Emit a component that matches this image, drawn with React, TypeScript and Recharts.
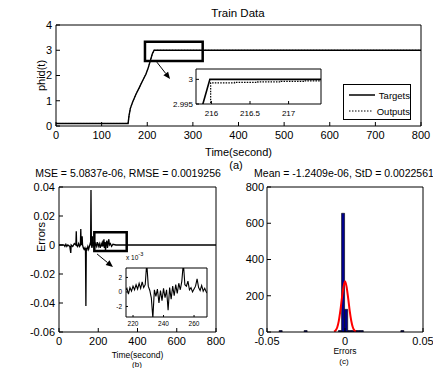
import React from "react";
import {
  LineChart,
  ComposedChart,
  Line,
  Bar,
  XAxis,
  YAxis,
  ReferenceArea,
  ReferenceLine,
  Legend,
  CartesianGrid,
} from "recharts";

// (a) train data
const trainTime = [0, 158, 160, 163, 168, 175, 182, 190, 197, 202, 207, 211, 215, 800];
const trainTargets = [0.1, 0.1, 0.4, 0.7, 0.95, 1.25, 1.5, 1.8, 2.05, 2.3, 2.6, 2.85, 3.0, 3.0];
const trainOutputs = [0.1, 0.1, 0.4, 0.7, 0.95, 1.25, 1.5, 1.8, 2.05, 2.3, 2.6, 2.85, 2.999, 3.0];
const trainXTicks = [0, 100, 200, 300, 400, 500, 600, 700, 800];
const trainYTicks = [0, 1, 2, 3, 4];

// (a) zoomed inset
const zoomTargetTime = [215.88, 215.98, 216.3, 216.6, 216.9, 217.2, 217.42];
const zoomTargets = [2.9945, 3.0, 3.0, 3.0, 3.0, 3.0, 3.0];
const zoomOutputTime = [215.88, 215.99, 216.3, 216.6, 216.9, 217.2, 217.42];
const zoomOutputs = [2.9942, 2.9993, 2.9994, 2.9995, 2.9996, 2.9997, 2.9997];
const zoomXTicks = [216, 216.5, 217];
const zoomYTicks = [2.995, 3];

// (b) errors
const errTime = [
  0, 25, 30, 35, 40, 45, 55, 60, 62, 70, 78, 86, 88, 90, 95, 100, 105, 109, 111, 113,
  116, 118, 120, 124, 128, 132, 135, 137, 139, 143, 147, 151, 155, 159, 161, 163, 165,
  168, 170, 172, 176, 180, 185, 190, 195, 200, 205, 210, 215, 220, 224, 226, 229, 231,
  234, 237, 240, 244, 247, 250, 254, 257, 262, 268, 275, 290, 800,
];
const errValue = [
  0, 0, -0.001, 0.0005, -0.001, 0, -0.001, -0.0055, 0, -0.001, 0.001, 0, 0.0095, 0,
  -0.001, 0.001, -0.001, 0, 0.011, 0, 0.001, 0.006, 0, -0.002, -0.003, -0.002, -0.004,
  -0.042, -0.002, -0.003, -0.001, -0.003, -0.001, 0.001, 0, 0.038, 0, -0.002, 0.006,
  -0.001, 0.002, -0.001, 0.001, -0.001, 0.002, -0.001, 0.001, -0.002, 0.001, -0.001,
  0.003, -0.001, 0.004, -0.002, 0.002, -0.004, 0.001, 0.003, -0.002, 0.001, 0.004, 0,
  0.001, -0.001, 0.0005, 0, 0,
];
const errXTicks = [0, 200, 400, 600, 800];
const errYTicks = [-0.06, -0.04, -0.02, 0, 0.02, 0.04];

// (b) zoomed inset, x 10^-3
const errZoomTime = [
  215, 216, 217, 218, 219, 220, 221, 222, 223, 224, 225, 226, 227, 228, 229, 230, 231,
  232, 233, 234, 235, 236, 237, 238, 239, 240, 241, 242, 243, 244, 245, 246, 247, 248,
  249, 250, 251, 252, 253, 254, 255, 256, 257, 258, 259, 260, 261, 262, 263, 264, 265,
  266, 267, 268, 269,
];
const errZoomValue = [
  0.2, 0.5, -0.3, 0.6, 0.1, 0.8, 0.3, 1.0, 0.4, 1.2, 0.5, 1.4, 0.6, 1.0, 4.0, 0.8, 0.2,
  -0.8, -3.6, 0.3, -0.6, 0.4, -1.5, 0.2, -1.2, 0.5, -0.8, 0.3, -2.5, 0.6, -1.0, 0.8,
  -0.5, 1.0, -0.2, 1.2, 0.3, 1.5, 4.0, 1.0, 0.8, 1.5, 0.3, 0.6, 0.0, 0.4, 0.8, 1.8, 0.6,
  0.2, 0.9, 0.1, 0.5, 0.0, -0.2,
];
const errZoomXTicks = [220, 240, 260];
const errZoomYTicks = [-2, 0, 2];

// (c) histogram, bins of width 0.002
const binCenters = [
  -0.0412, -0.0392, -0.0372, -0.0352, -0.0332, -0.0312, -0.0292, -0.0272, -0.0252,
  -0.0232, -0.0212, -0.0192, -0.0172, -0.0152, -0.0132, -0.0112, -0.0092, -0.0072,
  -0.0052, -0.0032, -0.0012, 0.0008, 0.0028, 0.0048, 0.0068, 0.0088, 0.0108, 0.0128,
  0.0148, 0.0168, 0.0188, 0.0208, 0.0228, 0.0248, 0.0268, 0.0288, 0.0308, 0.0328,
  0.0348, 0.0368,
];
const binCounts = [
  1, 0, 0, 0, 0, 0, 0, 0, 1, 0, 0, 0, 0, 0, 0, 0, 0, 0, 0, 3, 655, 125, 4, 2, 1, 2, 1,
  0, 0, 0, 0, 0, 0, 0, 0, 0, 0, 0, 0, 1,
];
const fitX = [
  -0.007, -0.006, -0.005, -0.004, -0.003, -0.002, -0.001, 0, 0.001, 0.002, 0.003, 0.004,
  0.005, 0.006, 0.007,
];
const fitY = [2, 9, 25, 60, 116, 185, 247, 280, 250, 188, 118, 62, 26, 9, 2];
const histXTicks = [-0.05, 0, 0.05];
const histYTicks = [0, 200, 400, 600, 800];

const legendOrder = ["Targets", "Outputs"];

const rows = (xs: number[], ys: number[]) => xs.map((t, i) => ({ t, v: ys[i] }));

const trainTargetData = rows(trainTime, trainTargets);
const trainOutputData = rows(trainTime, trainOutputs);
const zoomTargetData = rows(zoomTargetTime, zoomTargets);
const zoomOutputData = rows(zoomOutputTime, zoomOutputs);
const errData = rows(errTime, errValue);
const errZoomData = rows(errZoomTime, errZoomValue);
const histData = binCenters.map((t, i) => ({ t, v: binCounts[i] }));
const fitData = rows(fitX, fitY);

const FONT = '"Liberation Sans", Arial, Helvetica, sans-serif';
const tickText = (size: number) => ({ fill: "#000", fontSize: size });

const Arrow = (props: any) => {
  const { x1, y1, x2, y2 } = props;
  const a = Math.atan2(y2 - y1, x2 - x1);
  const len = 7;
  const w = 3;
  const bx = x2 - len * Math.cos(a);
  const by = y2 - len * Math.sin(a);
  const px = -Math.sin(a) * w;
  const py = Math.cos(a) * w;
  return (
    <g>
      <line x1={x1} y1={y1} x2={bx} y2={by} stroke="#000" strokeWidth={1} />
      <polygon points={`${x2},${y2} ${bx + px},${by + py} ${bx - px},${by - py}`} fill="#000" />
    </g>
  );
};

const legendDash: Record<string, string | undefined> = { Targets: undefined, Outputs: "1.5 1.5" };

const TrainLegend = ({ payload }: any) => {
  const items = [...(payload || [])].sort(
    (a: any, b: any) => legendOrder.indexOf(a.value) - legendOrder.indexOf(b.value)
  );
  return (
    <div
      style={{
        border: "1px solid #000",
        background: "#fff",
        width: 68,
        height: 36,
        boxSizing: "border-box",
        padding: "2px 0 0 5px",
        fontSize: 9.5,
        fontFamily: FONT,
        color: "#000",
      }}
    >
      {items.map((p: any) => (
        <div key={p.value} style={{ display: "flex", alignItems: "center", height: 16 }}>
          <svg width={30} height={6}>
            <line x1={0} y1={3} x2={30} y2={3} stroke="#000" strokeWidth={legendDash[p.value] ? 1 : 1.5} strokeDasharray={legendDash[p.value]} />
          </svg>
          <span style={{ marginLeft: 4 }}>{p.value}</span>
        </div>
      ))}
    </div>
  );
};

// MATLAB put this ylabel a bit above the middle of the axis
const ErrorsLabel = ({ viewBox }: any) => {
  const cx = viewBox.x + 41;
  const cy = viewBox.y + viewBox.height * 0.345;
  return (
    <text x={cx} y={cy} transform={`rotate(-90 ${cx} ${cy})`} textAnchor="middle" dominantBaseline="central" fontSize={11} fill="#000">
      Errors
    </text>
  );
};

const Caption = ({ x, y, size, children }: { x: number; y: number; size: number; children: React.ReactNode }) => (
  <div
    style={{
      position: "absolute",
      left: x - 150,
      top: y,
      width: 300,
      textAlign: "center",
      fontSize: size,
      lineHeight: 1,
      whiteSpace: "nowrap",
      color: "#000",
    }}
  >
    {children}
  </div>
);

export default function App() {
  return (
    <div
      style={{
        position: "absolute",
        left: 0,
        top: 0,
        width: 433,
        height: 368,
        background: "#fff",
        fontFamily: FONT,
        overflow: "hidden",
      }}
    >
      {/* (a) */}
      <div style={{ position: "absolute", left: 0, top: 0 }}>
        <LineChart width={433} height={170} margin={{ top: 25, right: 12, bottom: 0, left: 0 }}>
          <XAxis
            dataKey="t"
            type="number"
            domain={[0, 800]}
            ticks={trainXTicks}
            interval={0}
            height={44}
            tickSize={-4}
            tickMargin={9}
            stroke="#000"
            tick={tickText(11)}
            allowDataOverflow
            label={{ value: "Time(second)", position: "insideBottom", offset: 14, fill: "#000", fontSize: 11 }}
          />
          <YAxis
            type="number"
            domain={[0, 4]}
            ticks={trainYTicks}
            interval={0}
            width={56}
            tickSize={-4}
            tickMargin={8}
            stroke="#000"
            tick={tickText(11)}
            allowDataOverflow
            label={{ value: "phid(t)", angle: -90, position: "insideLeft", offset: 41, fill: "#000", fontSize: 11, style: { textAnchor: "middle" } }}
          />
          <XAxis xAxisId="top" orientation="top" mirror type="number" domain={[0, 800]} ticks={trainXTicks} interval={0} tick={false} tickSize={4} stroke="#000" allowDataOverflow />
          <YAxis yAxisId="right" orientation="right" mirror type="number" domain={[0, 4]} ticks={trainYTicks} interval={0} tick={false} tickSize={4} stroke="#000" allowDataOverflow />
          <Line data={trainTargetData} dataKey="v" name="Targets" type="linear" stroke="#000" strokeWidth={1.4} dot={false} isAnimationActive={false} />
          <Line data={trainOutputData} dataKey="v" name="Outputs" type="linear" stroke="#000" strokeWidth={1} strokeDasharray="1.5 1.5" dot={false} isAnimationActive={false} />
          <ReferenceArea x1={195} x2={321.5} y1={2.57} y2={3.34} fill="none" stroke="#000" strokeWidth={2.5} ifOverflow="visible" />
          <ReferenceLine segment={[{ x: 221, y: 2.53 }, { x: 250, y: 1.86 }]} shape={Arrow} ifOverflow="visible" />
          <Legend content={TrainLegend} layout="vertical" align="center" verticalAlign="middle" wrapperStyle={{ left: 343, top: 84, width: 68 }} />
        </LineChart>
      </div>

      {/* (a) inset */}
      <div style={{ position: "absolute", left: 166, top: 64 }}>
        <LineChart width={160} height={58} margin={{ top: 5, right: 5, bottom: 0, left: 0 }}>
          <CartesianGrid horizontal={false} vertical={false} fill="#fff" />
          <XAxis dataKey="t" type="number" domain={[215.8, 217.42]} ticks={zoomXTicks} interval={0} height={18} tickSize={-3} tickMargin={9} stroke="#000" tick={tickText(8)} allowDataOverflow />
          <YAxis type="number" domain={[2.995, 3.0021]} ticks={zoomYTicks} interval={0} width={30} tickSize={-3} tickMargin={6} stroke="#000" tick={tickText(8)} allowDataOverflow />
          <XAxis xAxisId="top" orientation="top" mirror type="number" domain={[215.8, 217.42]} ticks={zoomXTicks} interval={0} tick={false} tickSize={3} stroke="#000" allowDataOverflow />
          <YAxis yAxisId="right" orientation="right" mirror type="number" domain={[2.995, 3.0021]} ticks={zoomYTicks} interval={0} tick={false} tickSize={3} stroke="#000" allowDataOverflow />
          <Line data={zoomTargetData} dataKey="v" type="linear" stroke="#000" strokeWidth={1.6} dot={false} isAnimationActive={false} />
          <Line data={zoomOutputData} dataKey="v" type="stepAfter" stroke="#000" strokeWidth={1.2} strokeDasharray="1.5 1.2" dot={false} isAnimationActive={false} />
        </LineChart>
      </div>

      <Caption x={238} y={8} size={11.5}>Train Data</Caption>
      <Caption x={236} y={160} size={11}>(a)</Caption>

      {/* (b) */}
      <div style={{ position: "absolute", left: 0, top: 170 }}>
        <LineChart width={230} height={198} margin={{ top: 17, right: 14, bottom: 0, left: 0 }}>
          <XAxis
            dataKey="t"
            type="number"
            domain={[0, 800]}
            ticks={errXTicks}
            interval={0}
            height={36}
            tickSize={-4}
            tickMargin={9}
            stroke="#000"
            tick={tickText(11)}
            allowDataOverflow
            label={{ value: "Time(second)", position: "insideBottom", offset: 10, fill: "#000", fontSize: 8.5 }}
          />
          <YAxis
            type="number"
            domain={[-0.06, 0.04]}
            ticks={errYTicks}
            interval={0}
            width={59}
            tickSize={-4}
            tickMargin={8}
            stroke="#000"
            tick={tickText(11)}
            allowDataOverflow
            label={{ value: "Errors", content: ErrorsLabel }}
          />
          <XAxis xAxisId="top" orientation="top" mirror type="number" domain={[0, 800]} ticks={errXTicks} interval={0} tick={false} tickSize={4} stroke="#000" allowDataOverflow />
          <YAxis yAxisId="right" orientation="right" mirror type="number" domain={[-0.06, 0.04]} ticks={errYTicks} interval={0} tick={false} tickSize={4} stroke="#000" allowDataOverflow />
          <Line data={errData} dataKey="v" type="linear" stroke="#000" strokeWidth={1.3} dot={false} isAnimationActive={false} />
          <ReferenceArea x1={180} x2={345} y1={-0.0041} y2={0.0088} fill="none" stroke="#000" strokeWidth={2.5} ifOverflow="visible" />
          <ReferenceLine segment={[{ x: 194, y: -0.0062 }, { x: 275, y: -0.0152 }]} shape={Arrow} ifOverflow="visible" />
        </LineChart>
      </div>

      {/* (b) inset */}
      <div style={{ position: "absolute", left: 100, top: 262 }}>
        <LineChart width={112} height={70} margin={{ top: 6, right: 5, bottom: 0, left: 0 }}>
          <CartesianGrid horizontal={false} vertical={false} fill="#fff" />
          <XAxis dataKey="t" type="number" domain={[215.4, 268.5]} ticks={errZoomXTicks} interval={0} height={15} tickSize={-2} tickMargin={6} stroke="#000" tick={tickText(6.5)} allowDataOverflow />
          <YAxis type="number" domain={[-3.45, 3.3]} ticks={errZoomYTicks} interval={0} width={26} tickSize={-2} tickMargin={6} stroke="#000" tick={tickText(6.5)} allowDataOverflow />
          <XAxis xAxisId="top" orientation="top" mirror type="number" domain={[215.4, 268.5]} ticks={errZoomXTicks} interval={0} tick={false} tickSize={2} stroke="#000" allowDataOverflow />
          <YAxis yAxisId="right" orientation="right" mirror type="number" domain={[-3.45, 3.3]} ticks={errZoomYTicks} interval={0} tick={false} tickSize={2} stroke="#000" allowDataOverflow />
          <Line data={errZoomData} dataKey="v" type="linear" stroke="#000" strokeWidth={1.1} dot={false} isAnimationActive={false} />
        </LineChart>
      </div>
      <div style={{ position: "absolute", left: 126, top: 255, fontSize: 6.5, lineHeight: 1, color: "#000" }}>
        x 10<sup style={{ fontSize: 5.5, verticalAlign: "top", position: "relative", top: -3 }}>-3</sup>
      </div>

      <Caption x={128} y={168} size={10.5}>MSE = 5.0837e-06, RMSE = 0.0019256</Caption>
      <Caption x={137} y={361} size={8}>(b)</Caption>

      {/* (c) */}
      <div style={{ position: "absolute", left: 230, top: 170 }}>
        <ComposedChart width={203} height={198} data={histData} barCategoryGap={0} barGap={0} margin={{ top: 17, right: 10, bottom: 0, left: 0 }}>
          <XAxis
            dataKey="t"
            type="number"
            domain={[-0.05, 0.05]}
            ticks={histXTicks}
            interval={0}
            height={36}
            tickSize={-4}
            tickMargin={9}
            stroke="#000"
            tick={tickText(11)}
            allowDataOverflow
            label={{ value: "Errors", position: "insideBottom", offset: 14, fill: "#000", fontSize: 8.5 }}
          />
          <XAxis xAxisId="bins" dataKey="t" type="number" domain={[-0.05, 0.05]} hide allowDataOverflow />
          <YAxis type="number" domain={[0, 800]} ticks={histYTicks} interval={0} width={37} tickSize={-4} tickMargin={7} stroke="#000" tick={tickText(11)} allowDataOverflow />
          <XAxis xAxisId="top" orientation="top" mirror type="number" domain={[-0.05, 0.05]} ticks={histXTicks} interval={0} tick={false} tickSize={4} stroke="#000" allowDataOverflow />
          <YAxis yAxisId="right" orientation="right" mirror type="number" domain={[0, 800]} ticks={histYTicks} interval={0} tick={false} tickSize={4} stroke="#000" allowDataOverflow />
          <Bar
            xAxisId="bins"
            dataKey="v"
            fill="#00008F"
            stroke="#000"
            strokeWidth={0.6}
            minPointSize={(value: number) => (value > 0 ? 1.5 : 0)}
            isAnimationActive={false}
          />
          <Line data={fitData} dataKey="v" type="monotone" stroke="#FF0000" strokeWidth={2} dot={false} isAnimationActive={false} />
        </ComposedChart>
      </div>

      <Caption x={344} y={168} size={10.5}>Mean = -1.2409e-06, StD = 0.0022561</Caption>
      <Caption x={344} y={358} size={8}>(c)</Caption>
    </div>
  );
}
